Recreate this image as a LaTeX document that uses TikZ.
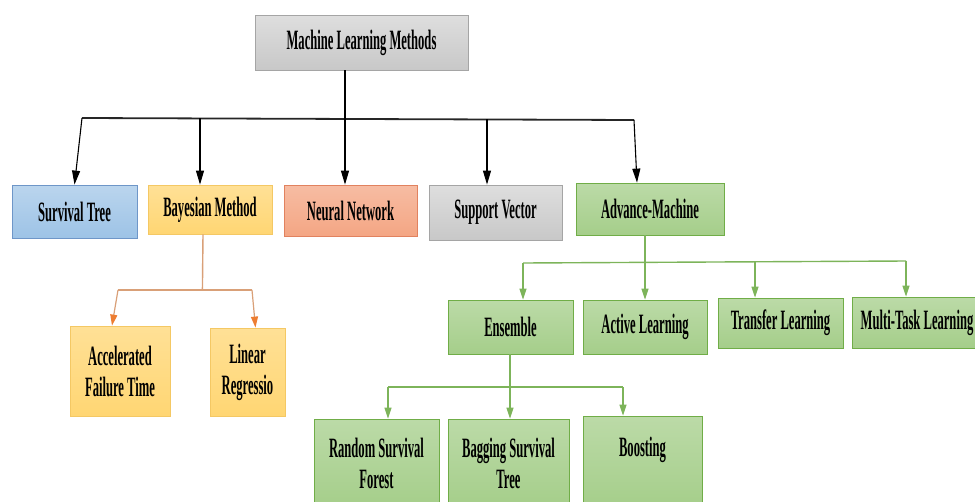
\documentclass[tikz,border=0pt]{standalone}
\usepackage{fontspec}
\setmainfont[FakeStretch=0.45]{Liberation Serif}
\usepackage{tikz}
\usetikzlibrary{calc,arrows.meta,positioning}
\definecolor{stBlue}{RGB}{157,195,230}
\definecolor{stBlueB}{RGB}{110,150,200}
\definecolor{bmYellow}{RGB}{255,214,115}
\definecolor{bmYellowB}{RGB}{244,200,100}
\definecolor{nnSalmon}{RGB}{244,166,132}
\definecolor{nnSalmonB}{RGB}{225,130,95}
\definecolor{svGray}{RGB}{200,200,200}
\definecolor{svGrayB}{RGB}{165,165,165}
\definecolor{amGreen}{RGB}{165,206,138}
\definecolor{amGreenB}{RGB}{112,173,71}
\definecolor{linkOrange}{RGB}{217,160,120}
\definecolor{tipOrange}{RGB}{237,125,49}
\definecolor{linkGreen}{RGB}{125,180,90}
\tikzset{
myBox/.style={
	rectangle,thick,inner sep=0pt,align=center,
	font=\bfseries\fontsize{28}{31}\selectfont,text=black
}
, myRoot/.style={myBox,draw=svGrayB,top color=svGray!60,bottom color=svGray}
, myBlue/.style={myBox,draw=stBlueB,top color=stBlue!70,bottom color=stBlue}
, myYellow/.style={myBox,draw=bmYellowB,top color=bmYellow!75,bottom color=bmYellow}
, mySalmon/.style={myBox,draw=nnSalmonB,top color=nnSalmon!75,bottom color=nnSalmon}
, myGray/.style={myBox,draw=svGrayB,top color=svGray!60,bottom color=svGray}
, myGreen/.style={myBox,draw=amGreenB,top color=amGreen!75,bottom color=amGreen}
% links
, myBus/.style={line width=1.8pt,black!85}
, myLink/.style={-{Triangle[length=14pt,width=8pt]},line width=1.1pt,black}
, myBusO/.style={line width=1.4pt,linkOrange}
, myLinkO/.style={-{Triangle[length=11pt,width=7pt,color=tipOrange]},line width=1.2pt,linkOrange}
, myBusG/.style={line width=1.4pt,linkGreen}
, myLinkG/.style={-{Triangle[length=11pt,width=7pt]},line width=1.2pt,linkGreen}
}

\begin{document}
\begin{tikzpicture}[x=1pt,y=-1pt]
	\useasboundingbox (0,0) rectangle (975,501);
	% root
	\node[myRoot,minimum width=213pt,minimum height=55pt] (ML) at (361.5,42.5) {Machine Learning Methods};
	% first level
	\node[myBlue,minimum width=125pt,minimum height=53pt] (ST) at (74.5,211.5) {Survival Tree};
	\node[myYellow,minimum width=124pt,minimum height=49pt] (BM) at (210,209.5) {Bayesian Method};
	\node[mySalmon,minimum width=133pt,minimum height=51pt] (NN) at (350.5,210.5) {Neural Network};
	\node[myGray,minimum width=133pt,minimum height=55pt] (SV) at (495.5,212.5) {Support Vector};
	\node[myGreen,minimum width=148pt,minimum height=52pt] (AM) at (650,209) {Advance-Machine};
	% bayesian
	\node[myYellow,minimum width=100pt,minimum height=90pt] (AFT) at (120,371) {Accelerated\\Failure Time};
	\node[myYellow,minimum width=75pt,minimum height=88pt] (LR) at (247.5,372) {Linear\\Regressio};
	% advance machine
	\node[myGreen,minimum width=125pt,minimum height=54pt] (EN) at (510.5,327) {Ensemble};
	\node[myGreen,minimum width=124pt,minimum height=54pt] (AL) at (645,327) {Active Learning};
	\node[myGreen,minimum width=125pt,minimum height=50pt] (TL) at (780.5,323) {Transfer Learning};
	\node[myGreen,minimum width=130pt,minimum height=51pt] (MT) at (917,322.5) {Multi-Task Learning};
	% ensemble
	\node[myGreen,minimum width=125pt,minimum height=88pt] (RSF) at (376.5,463) {Random Survival\\Forest};
	\node[myGreen,minimum width=121pt,minimum height=88pt] (BST) at (508.5,463) {Bagging Survival\\Tree};
	\node[myGreen,minimum width=119pt,minimum height=92pt] (BO) at (642.5,462) {Boosting\\\mbox{}};

	% bus points
	\coordinate (b1) at (82,118);
	\coordinate (b2) at (200,118);
	\coordinate (b3) at (345,118);
	\coordinate (b4) at (487,119);
	\coordinate (b5) at (634,120);
	\coordinate (o1) at (118,290);
	\coordinate (o2) at (252,290);
	\coordinate (g1) at (523,263);
	\coordinate (g2) at (645,262);
	\coordinate (g3) at (755,262);
	\coordinate (g4) at (906,261);
	\coordinate (e1) at (388,387);
	\coordinate (e2) at (510,387);
	\coordinate (e3) at (623,387);

	% links
	\draw[line width=1.1pt] (ML.south -| b3) -- (b3);
	\draw[myBus] (b1) -- (b5);
	\draw[myLink] (b1) -- (ST.north);
	\draw[myLink] (b2) -- (b2 |- BM.north);
	\draw[myLink] (b3) -- (b3 |- NN.north);
	\draw[myLink] (b4) -- (b4 |- SV.north);
	\draw[myLink] (b5) -- ($(AM.north)+(-13,0)$);

	\draw[myBusO] ($(BM.south)+(-7,0)$) -- ($(o1)!0.63!(o2)$);
	\draw[myBusO] (o1) -- (o2);
	\draw[myLinkO] (o1) -- ($(AFT.north)+(-8,0)$);
	\draw[myLinkO] (o2) -- ($(LR.north)+(8,0)$);

	\draw[myBusG] (AM.south -| g2) -- (g2);
	\draw[myBusG] (g1) -- (g4);
	\draw[myLinkG] (g1) -- (g1 |- EN.north);
	\draw[myLinkG] (g2) -- (g2 |- AL.north);
	\draw[myLinkG] (g3) -- (g3 |- TL.north);
	\draw[myLinkG] (g4) -- (g4 |- MT.north);

	\draw[myBusG] (EN.south -| e2) -- (e2);
	\draw[myBusG] (e1) -- (e3);
	\draw[myLinkG] (e1) -- (e1 |- RSF.north);
	\draw[myLinkG] (e2) -- (e2 |- BST.north);
	\draw[myLinkG] (e3) -- (e3 |- BO.north);
\end{tikzpicture}
\end{document}
